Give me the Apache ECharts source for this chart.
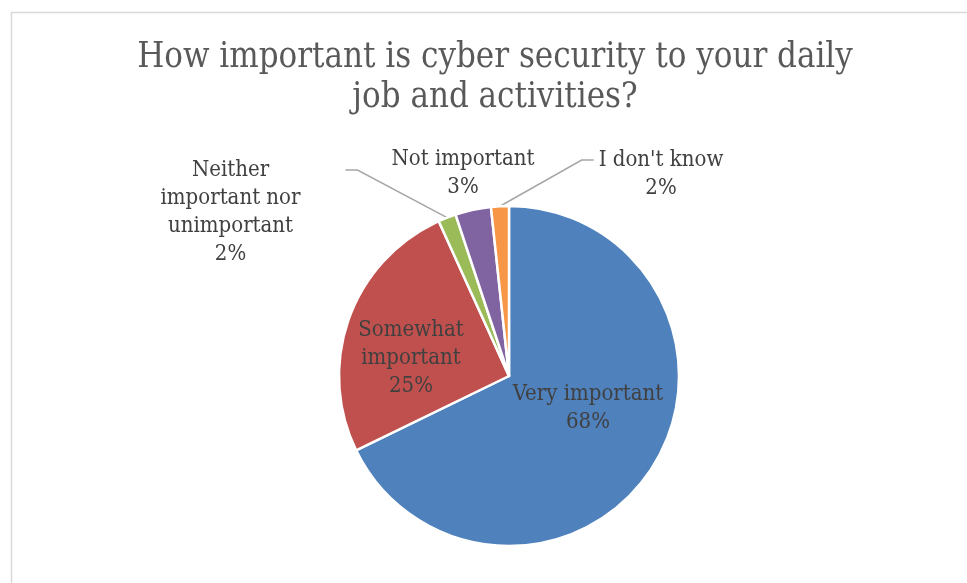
<!DOCTYPE html>
<html>
<head>
<meta charset="utf-8">
<script src="https://cdn.jsdelivr.net/npm/echarts@6/dist/echarts.min.js"></script>
<style>
html,body{margin:0;padding:0;background:#fff;}
#chart{width:967px;height:583px;}
</style>
</head>
<body>
<div id="chart"></div>
<script>
var titleText = "How important is cyber security to your daily\njob and activities?";
var categories = ["Very important", "Somewhat\nimportant", "Neither\nimportant nor\nunimportant", "Not important", "I don't know"];
var counts = [40, 15, 1, 2, 1];
var colors = ["#4F81BD", "#C0504D", "#9BBB59", "#8064A2", "#F79646"];

var FONT = "'DejaVu Serif Condensed', 'Liberation Serif', serif";
// label placement; blank lines on top put the leader-line attachment at the first text line
var labelPos = [
  {x: 588, y: 408, pad: [0, 0, 0, 0], blank: 0},
  {x: 411, y: 358, pad: [0, 0, 0, 0], blank: 0},
  {x: 253, y: 170, pad: [0, 45, 0, 0], blank: 3},
  {x: 463, y: 173, pad: [0, 0, 0, 0], blank: 0},
  {x: 658.5, y: 160, pad: [0, 0, 0, 5], blank: 1}
];
var showLine = [false, false, true, false, true];

var chart = echarts.init(document.getElementById('chart'), null, {renderer: 'canvas'});
var data = categories.map(function (c, i) {
  return {
    name: c,
    value: counts[i],
    itemStyle: {color: colors[i]},
    label: {position: i < 2 ? 'inside' : 'outside', padding: labelPos[i].pad},
    labelLine: {show: showLine[i]}
  };
});

chart.setOption({
  backgroundColor: '#fff',
  animation: false,
  title: {
    text: titleText,
    left: 490,
    textAlign: 'center',
    top: 33,
    textStyle: {fontFamily: FONT, fontSize: 34.5, fontWeight: 'normal', color: '#595959', lineHeight: 40}
  },
  graphic: [{
    type: 'rect',
    shape: {x: 11.5, y: 12.5, width: 1200, height: 1200},
    style: {fill: 'none', stroke: '#D9D9D9', lineWidth: 1.5},
    silent: true
  }],
  series: [{
    type: 'pie',
    center: [509, 376],
    radius: [0, 170],
    startAngle: 90,
    clockwise: true,
    percentPrecision: 0,
    itemStyle: {borderColor: '#fff', borderWidth: 2.5},
    label: {
      formatter: function (p) {
        var pre = new Array(labelPos[p.dataIndex].blank + 1).join(' \n');
        return pre + p.name + '\n' + Math.round(p.percent) + '%';
      },
      fontFamily: FONT,
      fontSize: 22,
      lineHeight: 28,
      color: '#404040',
      align: 'center'
    },
    labelLine: {lineStyle: {color: '#A6A6A6', width: 1.5}, length: 10, length2: 12},
    labelLayout: function (p) {
      var lp = labelPos[p.dataIndex];
      return {x: lp.x, y: lp.y, align: 'center', verticalAlign: 'middle'};
    },
    data: data
  }]
});
</script>
</body>
</html>
